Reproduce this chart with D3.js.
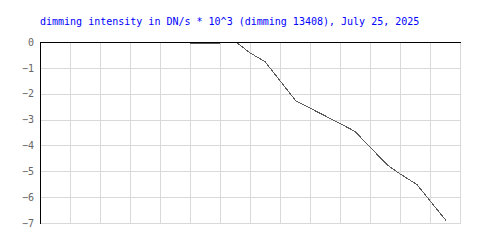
<!DOCTYPE html>
<html><head><meta charset="utf-8">
<script src="https://cdn.jsdelivr.net/npm/d3@7"></script>
<style>
html,body{margin:0;padding:0;background:#fff;}
svg{display:block;}
</style></head>
<body>
<script>
const title = "dimming intensity in DN/s * 10^3 (dimming 13408), July 25, 2025";
const xTicks = [0,1,2,3,4,5,6,7,8,9,10,11,12,13,14];
const yTicks = [0,-1,-2,-3,-4,-5,-6,-7];
const times  = [5.0, 6.0, 6.1, 7.0, 7.5, 8.53, 10.0, 10.5, 11.57, 12.0, 12.57, 13.53];
const values = [-0.04, -0.04, 0.385, -0.42, -0.76, -2.28, -3.15, -3.46, -4.75, -5.1, -5.52, -6.9];

const W = 500, H = 250;
const m = {left:40, right:40, top:42, bottom:27};
const svg = d3.select("body").append("svg").attr("width", W).attr("height", H);

const x = d3.scaleLinear().domain([0,14]).range([m.left, W - m.right]);
const y = d3.scaleLinear().domain([-7,0]).range([H - m.bottom, m.top]);

svg.append("text")
  .attr("x", 40).attr("y", 25)
  .attr("font-family", "DejaVu Sans Mono")
  .attr("font-size", 10)
  .attr("fill", "#0000ff")
  .text(title);

const grid = svg.append("g").attr("shape-rendering","crispEdges").attr("stroke","#d9d9d9").attr("stroke-width",1);
grid.selectAll("line.v").data(xTicks).join("line")
  .attr("x1", d => Math.round(x(d)) + 0.5).attr("x2", d => Math.round(x(d)) + 0.5)
  .attr("y1", y(0)).attr("y2", y(-7) + 0.5);
grid.selectAll("line.h").data(yTicks).join("line")
  .attr("x1", x(0)).attr("x2", x(14) + 1)
  .attr("y1", d => Math.round(y(d)) + 0.5).attr("y2", d => Math.round(y(d)) + 0.5);

svg.append("defs").append("clipPath").attr("id","clip")
  .append("rect").attr("x", x(0)).attr("y", y(0)+1).attr("width", x(14)-x(0)).attr("height", y(-7)-y(0));

const line = d3.line().x((d,i) => x(times[i])).y(d => y(d));
svg.append("path")
  .datum(values)
  .attr("clip-path","url(#clip)")
  .attr("d", line)
  .attr("fill","none")
  .attr("stroke","#5a5a5a")
  .attr("stroke-width",1)
  .attr("shape-rendering","crispEdges");

// axes lines: top and left black
svg.append("line").attr("x1", x(0)).attr("x2", x(14)+1).attr("y1", Math.round(y(0))+0.5).attr("y2", Math.round(y(0))+0.5)
  .attr("stroke","#000").attr("shape-rendering","crispEdges");
svg.append("line").attr("x1", Math.round(x(0))+0.5).attr("x2", Math.round(x(0))+0.5).attr("y1", y(0)).attr("y2", y(-7)+1)
  .attr("stroke","#000").attr("shape-rendering","crispEdges");

const yAxis = d3.axisLeft(y).tickValues(yTicks).tickSize(0).tickPadding(6).tickFormat(d3.format("d"));
const ga = svg.append("g").attr("transform", `translate(${x(0)},0)`).call(yAxis);
ga.select(".domain").remove();
ga.selectAll("text").attr("font-family","DejaVu Sans Mono").attr("font-size",10).attr("fill","#666");
</script>
</body></html>
